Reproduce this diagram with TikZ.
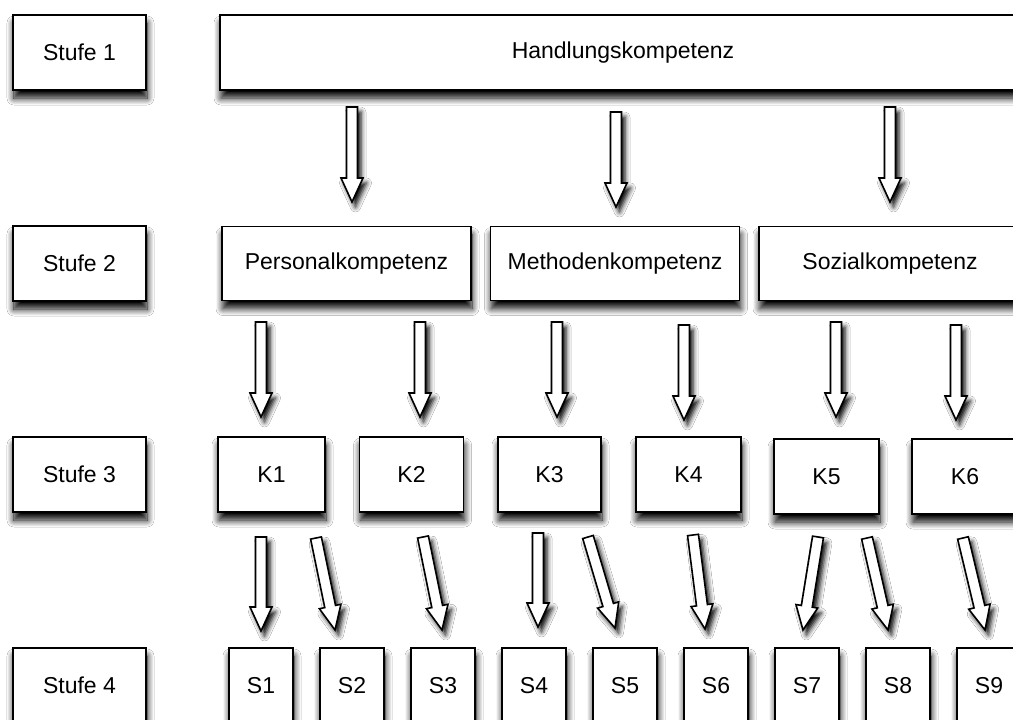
\documentclass[tikz,border=0pt]{standalone}
\usepackage{fontspec}
\setmainfont{Liberation Sans}
\usetikzlibrary{calc,shadows.blur}

\tikzset{
  softshadow/.style={blur shadow={shadow xshift=1pt, shadow yshift=-8pt,
      shadow blur radius=7pt, shadow blur steps=12, shadow opacity=100}},
  box/.style={draw=black, line width=1.7pt, fill=white, inner sep=0pt,
      font=\fontsize{23}{27}\selectfont, softshadow},
  stufebox/.style={box, minimum width=133pt, minimum height=75pt},
  widebox/.style={box, minimum width=249pt, minimum height=74pt},
  kbox/.style={box, minimum width=105pt, minimum height=75pt},
  sbox/.style={box, minimum width=64pt, minimum height=75pt},
  blockarrow/.style={draw=black, line width=1.6pt, fill=white, line join=miter,
      blur shadow={shadow xshift=3.5pt, shadow yshift=-5pt,
      shadow blur radius=5pt, shadow opacity=100}},
}

% hollow block arrow from #1 (middle of the shaft's tail) to #2 (tip)
\newcommand{\blockarrowpath}[2]{%
  \coordinate (ba-head) at ($(#2)!24pt!(#1)$);
  \path[blockarrow]
    ($(#1)!5.5pt!90:(#2)$) -- ($(ba-head)!5.5pt!90:(#2)$) --
    ($(ba-head)!11pt!90:(#2)$) -- (#2) --
    ($(ba-head)!11pt!-90:(#2)$) -- ($(ba-head)!5.5pt!-90:(#2)$) --
    ($(#1)!5.5pt!-90:(#2)$) -- cycle;}

\begin{document}
\begin{tikzpicture}[x=1pt,y=-1pt]
\clip (0,0) rectangle (1013,720);
\fill[white] (0,0) rectangle (1013,720);

% level labels
\node[stufebox] (st1) at (79.5,52.5)  {Stufe 1};
\node[stufebox] (st2) at (79.5,263.5) {Stufe 2};
\node[stufebox] (st3) at (79.5,474.5) {Stufe 3};
\node[stufebox] (st4) at (79.5,685.5) {Stufe 4};

% level 1
\node[box, minimum width=806pt, minimum height=75pt] (hk) at (623,52.5) {Handlungskompetenz};

% level 2
\node[widebox] (pk) at (346.5,263.5) {Personalkompetenz};
\node[widebox] (mk) at (615,263.5) {Methodenkompetenz};
\node[widebox, minimum width=262pt] (sk) at (890,263.5) {Sozialkompetenz};

% level 3
\node[kbox, minimum width=107pt] (k1) at (271.5,474.5) {K1};
\node[kbox, minimum width=104pt] (k2) at (411.5,474.5) {K2};
\node[kbox, minimum width=103pt] (k3) at (549.5,474.5) {K3};
\node[kbox] (k4) at (688.5,474.5) {K4};
\node[kbox] (k5) at (826.5,476.5) {K5};
\node[kbox, minimum width=106pt] (k6) at (965,476.5) {K6};

% level 4
\foreach \i in {1,...,9}
  \node[sbox] (s\i) at ({261+91*(\i-1)},685.5) {S\i};

% arrow ends
\coordinate (hk-pk-a) at (352,107);  \coordinate (hk-pk-b) at (352,202);
\coordinate (hk-mk-a) at (616,112);  \coordinate (hk-mk-b) at (616,207);
\coordinate (hk-sk-a) at (890,107);  \coordinate (hk-sk-b) at (890,202);

\coordinate (pk-k1-a) at (261,322);  \coordinate (pk-k1-b) at (261,417);
\coordinate (pk-k2-a) at (420,322);  \coordinate (pk-k2-b) at (420,417);
\coordinate (mk-k3-a) at (557,322);  \coordinate (mk-k3-b) at (557,417);
\coordinate (mk-k4-a) at (684,325);  \coordinate (mk-k4-b) at (684,420);
\coordinate (sk-k5-a) at (836,322);  \coordinate (sk-k5-b) at (836,417);
\coordinate (sk-k6-a) at (956,325);  \coordinate (sk-k6-b) at (956,420);

\coordinate (k1-s1-a) at (261,537);  \coordinate (k1-s1-b) at (261,631);
\coordinate (k1-s2-a) at (316,538);  \coordinate (k1-s2-b) at (335,630);
\coordinate (k2-s3-a) at (423,537);  \coordinate (k2-s3-b) at (442,630);
\coordinate (k3-s4-a) at (538,533);  \coordinate (k3-s4-b) at (538,627);
\coordinate (k3-s5-a) at (588,537);  \coordinate (k3-s5-b) at (615,628);
\coordinate (k4-s6-a) at (693,535);  \coordinate (k4-s6-b) at (705,629);
\coordinate (k5-s7-a) at (818,537);  \coordinate (k5-s7-b) at (803,630);
\coordinate (k5-s8-a) at (867,538);  \coordinate (k5-s8-b) at (888,630);
\coordinate (k6-s9-a) at (963,538);  \coordinate (k6-s9-b) at (985,630);

% block arrows
\foreach \c in {hk-pk,hk-mk,hk-sk,pk-k1,pk-k2,mk-k3,mk-k4,sk-k5,sk-k6,
                k1-s1,k1-s2,k2-s3,k3-s4,k3-s5,k4-s6,k5-s7,k5-s8,k6-s9}
  \blockarrowpath{\c-a}{\c-b};
\end{tikzpicture}
\end{document}
